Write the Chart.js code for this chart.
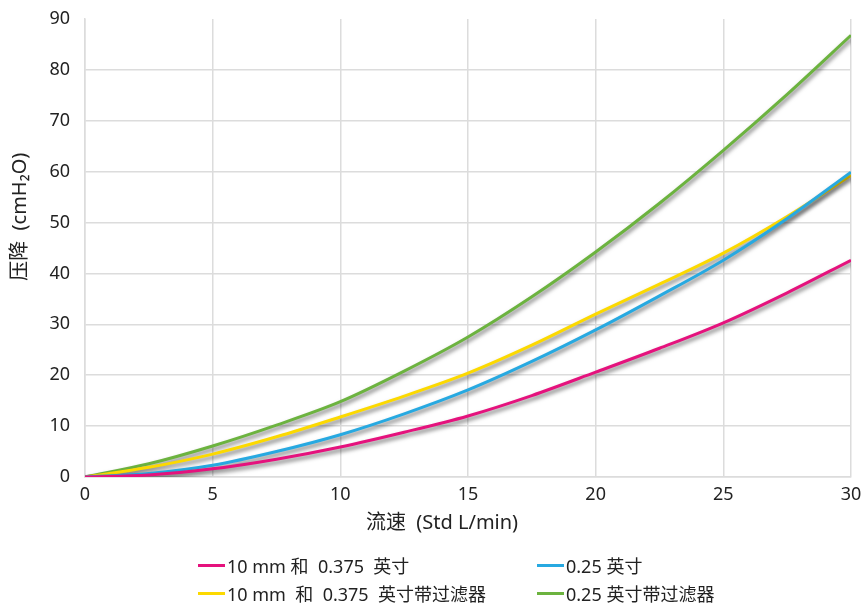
<!DOCTYPE html>
<html>
<head>
<meta charset="utf-8">
<script src="https://cdn.jsdelivr.net/npm/chart.js@4/dist/chart.umd.min.js"></script>
<style>
  html, body { margin: 0; padding: 0; background: #fff; }
  .wrap { position: relative; width: 863px; height: 608px; }
  .legend {
    position: absolute; left: 0; top: 552px; width: 863px;
    font: 18px 'Noto Sans', 'Noto Sans CJK SC', sans-serif; color: #222;
  }
  .legend__item { position: absolute; display: flex; align-items: center; white-space: pre; }
  .legend__line { width: 27px; height: 3px; margin-right: 2px; }
</style>
</head>
<body>
<div class="wrap">
  <canvas id="chart" width="863" height="608"></canvas>
  <div class="legend" id="legend"></div>
</div>
<script>
// flow (Std L/min)
const flow = [0, 2.5, 5, 7.5, 10, 12.5, 15, 17.5, 20, 22.5, 25, 27.5, 30];

// pressure drop (cmH2O)
const mm10 = [0, 0.4, 1.6, 3.5, 5.9, 8.8, 12.0, 16.0, 20.6, 25.3, 30.3, 36.2, 42.6];
const in025 = [0, 0.7, 2.3, 5.0, 8.3, 12.4, 17.1, 22.7, 28.9, 35.6, 42.6, 50.8, 59.9];
const mm10Filter = [0, 1.9, 4.5, 7.9, 11.8, 15.9, 20.4, 25.9, 32.0, 37.9, 44.0, 51.2, 59.3];
const in025Filter = [0, 2.6, 6.1, 10.2, 14.8, 20.8, 27.5, 35.4, 44.2, 53.8, 64.2, 75.2, 86.8];

const seriesNames = ['10 mm 和  0.375  英寸', '0.25 英寸', '10 mm  和  0.375  英寸带过滤器', '0.25 英寸带过滤器'];
const seriesColors = ['#e5127d', '#27a9e1', '#fcd900', '#6cb33f'];
const seriesValues = [mm10, in025, mm10Filter, in025Filter];

const ctx = document.getElementById('chart').getContext('2d');
const font = "'Noto Sans', 'Noto Sans CJK SC', sans-serif";

const shadow = {
  id: 'shadow',
  beforeDatasetsDraw(chart) {
    const c = chart.ctx;
    c.save();
    c.shadowColor = 'rgba(0, 0, 0, 0.55)';
    c.shadowBlur = 4;
    c.shadowOffsetX = 1;
    c.shadowOffsetY = 3;
  },
  afterDatasetsDraw(chart) {
    chart.ctx.restore();
  }
};

new Chart(ctx, {
  type: 'line',
  data: {
    datasets: seriesValues.map((vals, i) => ({
      label: seriesNames[i],
      data: vals.map((v, j) => ({ x: flow[j], y: v })),
      borderColor: seriesColors[i],
      backgroundColor: seriesColors[i],
      borderWidth: 3,
      pointRadius: 0,
      cubicInterpolationMode: 'monotone',
      fill: false
    }))
  },
  plugins: [shadow],
  options: {
    responsive: false,
    animation: false,
    layout: { padding: { top: 19, right: 12, bottom: 68, left: 0 } },
    plugins: {
      legend: { display: false },
      tooltip: { enabled: false }
    },
    scales: {
      x: {
        type: 'linear',
        min: 0,
        max: 30,
        ticks: { stepSize: 5, padding: 7, color: '#222', font: { family: font, size: 18 } },
        grid: { color: '#dcdcdc', lineWidth: 1.5, drawTicks: false },
        border: { color: '#dcdcdc', width: 1.5 },
        title: {
          display: true,
          text: '流速  (Std L/min)          ',
          color: '#222',
          font: { family: font, size: 20 },
          padding: { top: 2, bottom: 5 }
        },
        afterFit(scale) {
          scale.height = 63;
          scale.paddingLeft = 0;
          scale.paddingRight = 0;
        }
      },
      y: {
        min: 0,
        max: 90,
        ticks: { stepSize: 10, padding: 15, color: '#222', font: { family: font, size: 18 } },
        grid: {
          color: c => (c.tick && c.tick.value === 90 ? 'rgba(0,0,0,0)' : '#dcdcdc'),
          lineWidth: 1.5,
          drawTicks: false
        },
        border: { color: '#dcdcdc', width: 1.5 },
        title: {
          display: true,
          text: '            压降  (cmH₂O)',
          color: '#222',
          font: { family: font, size: 20 },
          padding: { top: 8, bottom: 0 }
        },
        afterFit(scale) {
          scale.width = 85;
          scale.paddingTop = 0;
          scale.paddingBottom = 0;
        }
      }
    }
  }
});

// two-column legend under the chart
const legend = document.getElementById('legend');
const slots = [[198, 0], [537, 0], [198, 28], [537, 28]];
seriesNames.forEach((name, i) => {
  const item = document.createElement('div');
  item.className = 'legend__item';
  item.style.left = slots[i][0] + 'px';
  item.style.top = slots[i][1] + 'px';
  item.innerHTML = '<div class="legend__line" style="background:' + seriesColors[i] + '"></div>' +
    '<div class="legend__text">' + name + '</div>';
  legend.appendChild(item);
});
</script>
</body>
</html>
